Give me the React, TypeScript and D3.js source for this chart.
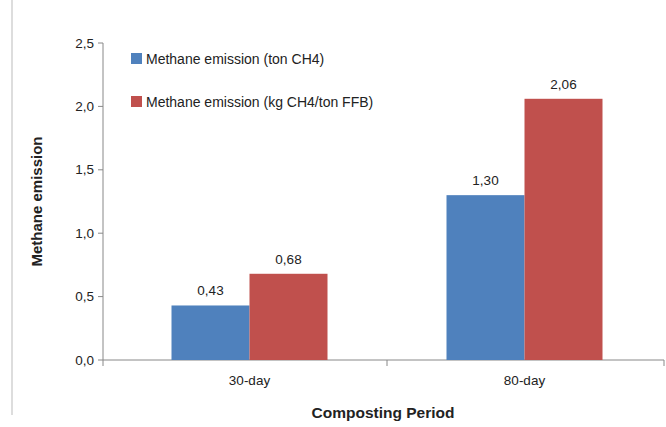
import * as d3 from "d3";

const categories = ["30-day", "80-day"];
const seriesNames = ["Methane emission (ton CH4)", "Methane emission (kg CH4/ton FFB)"];
const tonValues = [0.43, 1.3];
const kgValues = [0.68, 2.06];
const yTicks = [0, 0.5, 1, 1.5, 2, 2.5];
const colors = ["#4f81bd", "#c0504d"];

const W = 666;
const H = 427;
const left = 103;
const right = 664;
const top = 43;
const bottom = 360;
const font = "'Liberation Sans', Arial, sans-serif";

export default function App() {
  const x = d3.scaleBand().domain(categories).range([112, 662]);
  const inner = d3.scaleBand().domain(["a", "b"]).range([0, 156]);
  const y = d3.scaleLinear().domain([0, 2.5]).range([bottom, top]);
  const fmt = (v: number) => v.toFixed(2).replace(".", ",");
  const series = [tonValues, kgValues];

  return (
    <svg width={W} height={H} style={{ position: "absolute", left: 0, top: 0 }}>
      <rect width={W} height={H} fill="#fff" />
      <line x1={12} x2={12} y1={0} y2={415} stroke="#bbb" />
      <line x1={left} x2={left} y1={top} y2={bottom} stroke="#888" />
      <line x1={left} x2={right} y1={bottom} y2={bottom} stroke="#888" />
      {yTicks.map((t) => (
        <g key={t}>
          <line x1={left - 5} x2={left} y1={y(t)} y2={y(t)} stroke="#888" />
          <text x={left - 9} y={y(t) + 4.5} textAnchor="end" fontFamily={font} fontSize={13.5} fill="#222">
            {t.toFixed(1).replace(".", ",")}
          </text>
        </g>
      ))}
      {[left, x(categories[1])!, right].map((p, i) => (
        <line key={i} x1={p} x2={p} y1={bottom} y2={bottom + 6} stroke="#888" />
      ))}
      {categories.map((c, ci) => {
        const gx = x(c)! + x.bandwidth() / 2 - 78;
        return (
          <g key={c}>
            {series.map((s, si) => {
              const bx = gx + inner(si === 0 ? "a" : "b")!;
              return (
                <g key={si}>
                  <rect x={bx} y={y(s[ci])} width={inner.bandwidth()} height={bottom - y(s[ci])} fill={colors[si]} />
                  <text x={bx + inner.bandwidth() / 2} y={y(s[ci]) - 10} textAnchor="middle" fontFamily={font} fontSize={13.5} fill="#222">
                    {fmt(s[ci])}
                  </text>
                </g>
              );
            })}
            <text x={x(c)! + x.bandwidth() / 2} y={bottom + 25} textAnchor="middle" fontFamily={font} fontSize={13.5} fill="#222">
              {c}
            </text>
          </g>
        );
      })}
      {seriesNames.map((n, i) => (
        <g key={n} transform={`translate(131,${53 + i * 43})`}>
          <rect width={11} height={11} fill={colors[i]} />
          <text x={15} y={10.5} fontFamily={font} fontSize={14} fill="#222">{n}</text>
        </g>
      ))}
      <text transform={`translate(42,${(top + bottom) / 2}) rotate(-90)`} textAnchor="middle" fontFamily={font} fontSize={15} fontWeight="bold" fill="#222">
        Methane emission
      </text>
      <text x={383} y={418} textAnchor="middle" fontFamily={font} fontSize={15.5} fontWeight="bold" fill="#222">
        Composting Period
      </text>
    </svg>
  );
}
